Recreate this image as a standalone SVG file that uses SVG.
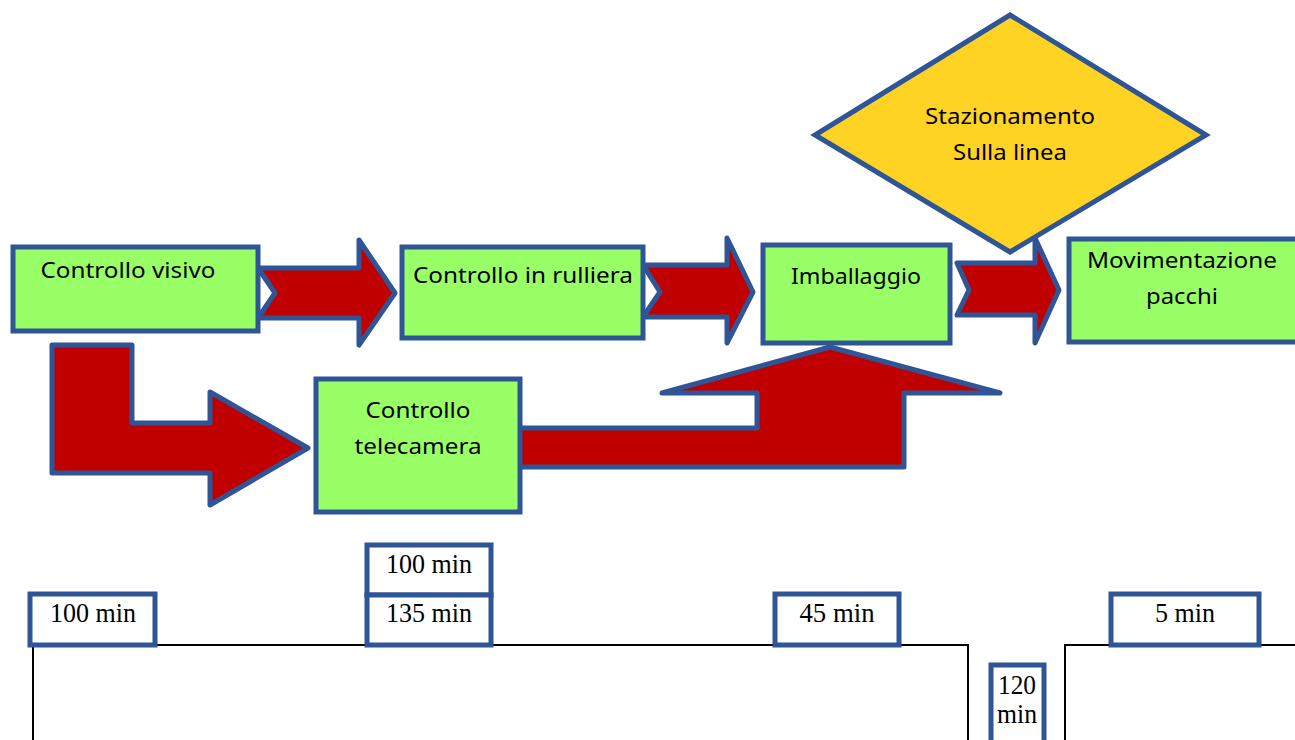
<svg xmlns="http://www.w3.org/2000/svg" width="1295" height="740" viewBox="0 0 1295 740">
<style>
.arrow{fill:#C00000;stroke:#2F5597;stroke-width:5;stroke-linejoin:round}
.box{fill:#99FF66;stroke:#2F5597;stroke-width:5}
.dia{fill:#FFD324;stroke:#2F5597;stroke-width:5}
.lbl{font-family:"Noto Sans","Open Sans","Liberation Sans",sans-serif;font-size:21px;fill:#000;text-anchor:middle}
.tbox{fill:#fff;stroke:#2F5597;stroke-width:5}
.tl{font-family:"Liberation Serif","Times New Roman",serif;font-size:28px;fill:#000;text-anchor:middle}
.line{fill:none;stroke:#000;stroke-width:2}
</style>
<rect width="1295" height="740" fill="#fff"/>
<g id="connectors">
<polygon class="arrow" points="258,268 359,268 359,240 395,293 359,345 359,318 258,318 275,293"/>
<polygon class="arrow" points="643,265 727,265 727,238 753,292 727,343 727,317 643,317 660,292"/>
<polygon class="arrow" points="957,263 1035,263 1035,238 1059,290 1035,343 1035,315 957,315 969,290"/>
<polygon class="arrow" points="52,345 132,345 132,423 210,423 210,392 308,448 210,505 210,473 52,473"/>
<polygon class="arrow" points="515,428 757,428 757,393 662,393 830,347 1000,393 904,393 904,467 515,467"/>
</g>
<g id="controllo-visivo">
<rect class="box" x="13" y="247" width="245" height="84"/>
<text class="lbl" x="128" y="278" textLength="175" lengthAdjust="spacingAndGlyphs">Controllo visivo</text>
</g>
<g id="controllo-rulliera">
<rect class="box" x="402" y="247" width="241" height="91"/>
<text class="lbl" x="523" y="283" textLength="220" lengthAdjust="spacingAndGlyphs">Controllo in rulliera</text>
</g>
<g id="imballaggio">
<rect class="box" x="763" y="245" width="187" height="98"/>
<text class="lbl" x="856" y="284" textLength="130" lengthAdjust="spacingAndGlyphs">Imballaggio</text>
</g>
<g id="stazionamento">
<polygon class="dia" points="1010,15 1206,135 1010,252 815,135"/>
<text class="lbl" x="1010" y="124" textLength="170" lengthAdjust="spacingAndGlyphs">Stazionamento</text>
<text class="lbl" x="1010" y="160" textLength="114" lengthAdjust="spacingAndGlyphs">Sulla linea</text>
</g>
<g id="movimentazione">
<rect class="box" x="1069" y="239" width="230" height="103"/>
<text class="lbl" x="1182" y="268" textLength="190" lengthAdjust="spacingAndGlyphs">Movimentazione</text>
<text class="lbl" x="1182" y="304" textLength="72" lengthAdjust="spacingAndGlyphs">pacchi</text>
</g>
<g id="controllo-telecamera">
<rect class="box" x="316" y="379" width="204" height="133"/>
<text class="lbl" x="418" y="418" textLength="105" lengthAdjust="spacingAndGlyphs">Controllo</text>
<text class="lbl" x="418" y="454" textLength="127" lengthAdjust="spacingAndGlyphs">telecamera</text>
</g>
<g id="timeline">
<polyline class="line" points="33,740 33,645 968,645 968,740"/>
<polyline class="line" points="1065,740 1065,645 1295,645"/>
</g>
<g id="t1">
<rect class="tbox" x="30" y="594" width="125" height="51"/>
<text class="tl" x="93" y="622" textLength="86" lengthAdjust="spacingAndGlyphs">100 min</text>
</g>
<g id="t2a">
<rect class="tbox" x="367" y="545" width="124" height="50"/>
<text class="tl" x="429" y="573" textLength="86" lengthAdjust="spacingAndGlyphs">100 min</text>
</g>
<g id="t2b">
<rect class="tbox" x="367" y="595" width="124" height="50"/>
<text class="tl" x="429" y="622" textLength="86" lengthAdjust="spacingAndGlyphs">135 min</text>
</g>
<g id="t3">
<rect class="tbox" x="775" y="594" width="124" height="51"/>
<text class="tl" x="837" y="622" textLength="75" lengthAdjust="spacingAndGlyphs">45 min</text>
</g>
<g id="t4">
<rect class="tbox" x="991" y="665" width="53" height="80"/>
<text class="tl" x="1017" y="694" textLength="38" lengthAdjust="spacingAndGlyphs">120</text>
<text class="tl" x="1017" y="723" textLength="40" lengthAdjust="spacingAndGlyphs">min</text>
</g>
<g id="t5">
<rect class="tbox" x="1111" y="594" width="148" height="51"/>
<text class="tl" x="1185" y="622" textLength="60" lengthAdjust="spacingAndGlyphs">5 min</text>
</g>
</svg>
